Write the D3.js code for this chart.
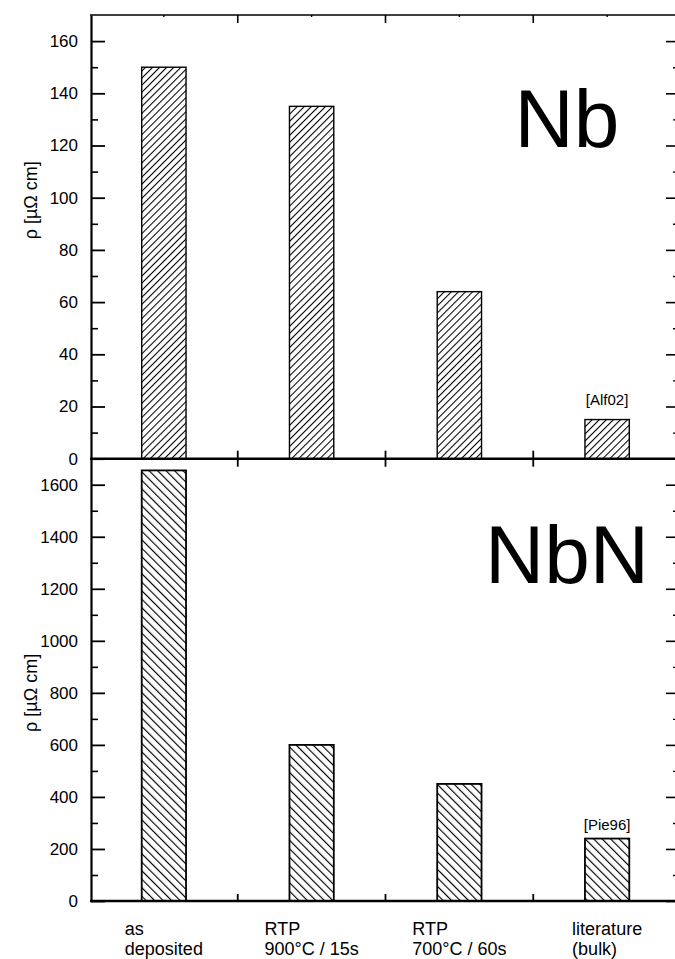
<!DOCTYPE html>
<html>
<head>
  <meta charset="utf-8">
  <title>Nb / NbN resistivity</title>
  <style>
    body { margin: 0; background: #fff; }
    svg { display: block; font-family: "Liberation Sans", Arial, sans-serif; }
    .domain { stroke: #000; }
  </style>
</head>
<body>
  <svg id="canvas" width="675" height="959"></svg>
  <script src="https://d3js.org/d3.v7.min.js"></script>
  <script>
    // category labels (two lines each)
    const categories = ["as deposited", "RTP 900", "RTP 700", "literature"];
    const catLines = [
      ["as", "deposited"],
      ["RTP", "900°C / 15s"],
      ["RTP", "700°C / 60s"],
      ["literature", "(bulk)"]
    ];

    // resistivity values, µΩ cm
    const nbValues = [150, 135, 64, 15];
    const nbnValues = [1655, 600, 450, 240];

    // reference tags on the literature bars
    const nbRefs = [null, null, null, "[Alf02]"];
    const nbnRefs = [null, null, null, "[Pie96]"];

    const nbTicks = [0, 20, 40, 60, 80, 100, 120, 140, 160];
    const nbnTicks = [0, 200, 400, 600, 800, 1000, 1200, 1400, 1600];

    const svg = d3.select("#canvas");
    const m = { left: 90, right: 681, top: 15, mid: 458.7, bottom: 901 };
    const font = "'Liberation Sans', Arial, sans-serif";

    const x = d3.scalePoint().domain(categories).range([m.left, m.right]).padding(0.5);
    const barW = x.step() * 0.3;
    const bounds = categories.slice(0, -1).map(c => x(c) + x.step() / 2);

    const panels = [
      { name: "Nb", values: nbValues, refs: nbRefs, ticks: nbTicks, domain: [0, 170], range: [m.mid, m.top],
        hatch: "hatchA", titleAt: 99, refGap: 15, labelY: 147 },
      { name: "NbN", values: nbnValues, refs: nbnRefs, ticks: nbnTicks, domain: [0, 1700], range: [m.bottom, m.mid],
        hatch: "hatchB", titleAt: 800, refGap: 9, labelY: 583 }
    ];

    // hatch patterns
    const defs = svg.append("defs");
    defs.append("pattern").attr("id", "hatchA")
      .attr("patternUnits", "userSpaceOnUse").attr("width", 5).attr("height", 5)
      .attr("patternTransform", "rotate(45)")
      .append("line").attr("x1", 0.5).attr("y1", 0).attr("x2", 0.5).attr("y2", 5)
      .attr("stroke", "#000").attr("stroke-width", 1.1);
    defs.append("pattern").attr("id", "hatchB")
      .attr("patternUnits", "userSpaceOnUse").attr("width", 6).attr("height", 6)
      .attr("patternTransform", "rotate(-45)")
      .append("line").attr("x1", 0.5).attr("y1", 0).attr("x2", 0.5).attr("y2", 6)
      .attr("stroke", "#000").attr("stroke-width", 1.3);

    panels.forEach(p => {
      const y = d3.scaleLinear().domain(p.domain).range(p.range);
      const step = p.ticks[1] - p.ticks[0];
      const minor = d3.range(step / 2, p.domain[1], step);
      const g = svg.append("g");

      // bars
      g.selectAll(".bar").data(p.values).enter().append("rect")
        .attr("x", (d, i) => x(categories[i]) - barW / 2)
        .attr("y", d => y(d))
        .attr("width", barW)
        .attr("height", d => y(0) - y(d))
        .attr("fill", "url(#" + p.hatch + ")")
        .attr("stroke", "#000")
        .attr("stroke-width", p.name == "Nb" ? 1.4 : 1.8);

      // reference tags
      p.values.forEach((v, i) => {
        if (!p.refs[i]) return;
        g.append("text")
          .attr("x", x(categories[i]))
          .attr("y", y(v) - p.refGap)
          .attr("text-anchor", "middle")
          .attr("font-size", 15)
          .text(p.refs[i]);
      });

      // left axis: major and minor ticks, pointing inward
      g.append("g").attr("transform", "translate(" + (m.left + 1) + ",0)")
        .call(d3.axisLeft(y).tickValues(minor).tickSize(-7).tickFormat(""))
        .call(a => a.select(".domain").remove())
        .selectAll("line").attr("stroke-width", 1.6);
      g.append("g").attr("transform", "translate(" + (m.left + 1) + ",0)")
        .call(d3.axisLeft(y).tickValues(p.ticks).tickSize(-14).tickSizeOuter(0).tickPadding(13).tickFormat(d3.format("d")))
        .attr("font-size", 17)
        .attr("font-family", font)
        .call(a => a.select(".domain").attr("stroke-width", 2.2))
        .call(a => a.selectAll("line").attr("stroke-width", 1.8));

      // right axis ticks
      g.append("g").attr("transform", "translate(" + m.right + ",0)")
        .call(d3.axisRight(y).tickValues(minor).tickSize(-8).tickFormat(""))
        .call(a => a.select(".domain").remove())
        .selectAll("line").attr("stroke-width", 1.4);
      g.append("g").attr("transform", "translate(" + m.right + ",0)")
        .call(d3.axisRight(y).tickValues(p.ticks).tickSize(-15).tickFormat("").tickSizeOuter(0))
        .call(a => a.select(".domain").attr("stroke-width", 2))
        .selectAll("line").attr("stroke-width", 1.6);

      // axis title
      g.append("text")
        .attr("transform", "translate(37," + y(p.titleAt) + ")rotate(-90)")
        .attr("text-anchor", "middle")
        .attr("font-size", 18)
        .text("ρ [µΩ cm]");

      // material label
      g.append("text")
        .attr("x", 567)
        .attr("y", p.labelY)
        .attr("text-anchor", "middle")
        .attr("font-size", 82)
        .text(p.name);
    });

    // horizontal frame lines and x ticks
    const frame = svg.append("g").attr("stroke", "#000");
    frame.append("line").attr("x1", m.left).attr("x2", 675).attr("y1", m.top).attr("y2", m.top).attr("stroke-width", 1.6);
    frame.append("line").attr("x1", m.left).attr("x2", 675).attr("y1", m.mid).attr("y2", m.mid).attr("stroke-width", 2.6);
    frame.append("line").attr("x1", m.left).attr("x2", 675).attr("y1", m.bottom).attr("y2", m.bottom).attr("stroke-width", 2.6);

    frame.selectAll(".tt").data(bounds).enter().append("line")
      .attr("x1", d => d).attr("x2", d => d).attr("y1", m.top).attr("y2", m.top + 8).attr("stroke-width", 1.6);
    frame.selectAll(".tc").data(categories).enter().append("line")
      .attr("x1", d => x(d)).attr("x2", d => x(d)).attr("y1", m.top).attr("y2", m.top + 2).attr("stroke-width", 1.4);
    frame.selectAll(".tm").data(bounds).enter().append("line")
      .attr("x1", d => d).attr("x2", d => d).attr("y1", m.mid - 8).attr("y2", m.mid + 8).attr("stroke-width", 1.8);
    frame.selectAll(".tb").data(bounds).enter().append("line")
      .attr("x1", d => d).attr("x2", d => d).attr("y1", m.bottom - 7).attr("y2", m.bottom).attr("stroke-width", 1.8);

    // category labels: left-aligned two-line blocks centred under each bar
    const labels = svg.selectAll(".cat").data(catLines).enter().append("text")
      .attr("class", "cat")
      .attr("font-size", 18);
    labels.each(function (lines, i) {
      const t = d3.select(this);
      lines.forEach((s, k) => {
        t.append("tspan").attr("y", k ? 955 : 935).text(s);
      });
      let w = 0;
      t.selectAll("tspan").each(function () { w = Math.max(w, this.getComputedTextLength()); });
      t.selectAll("tspan").attr("x", x(categories[i]) - w / 2);
    });
  </script>
</body>
</html>
